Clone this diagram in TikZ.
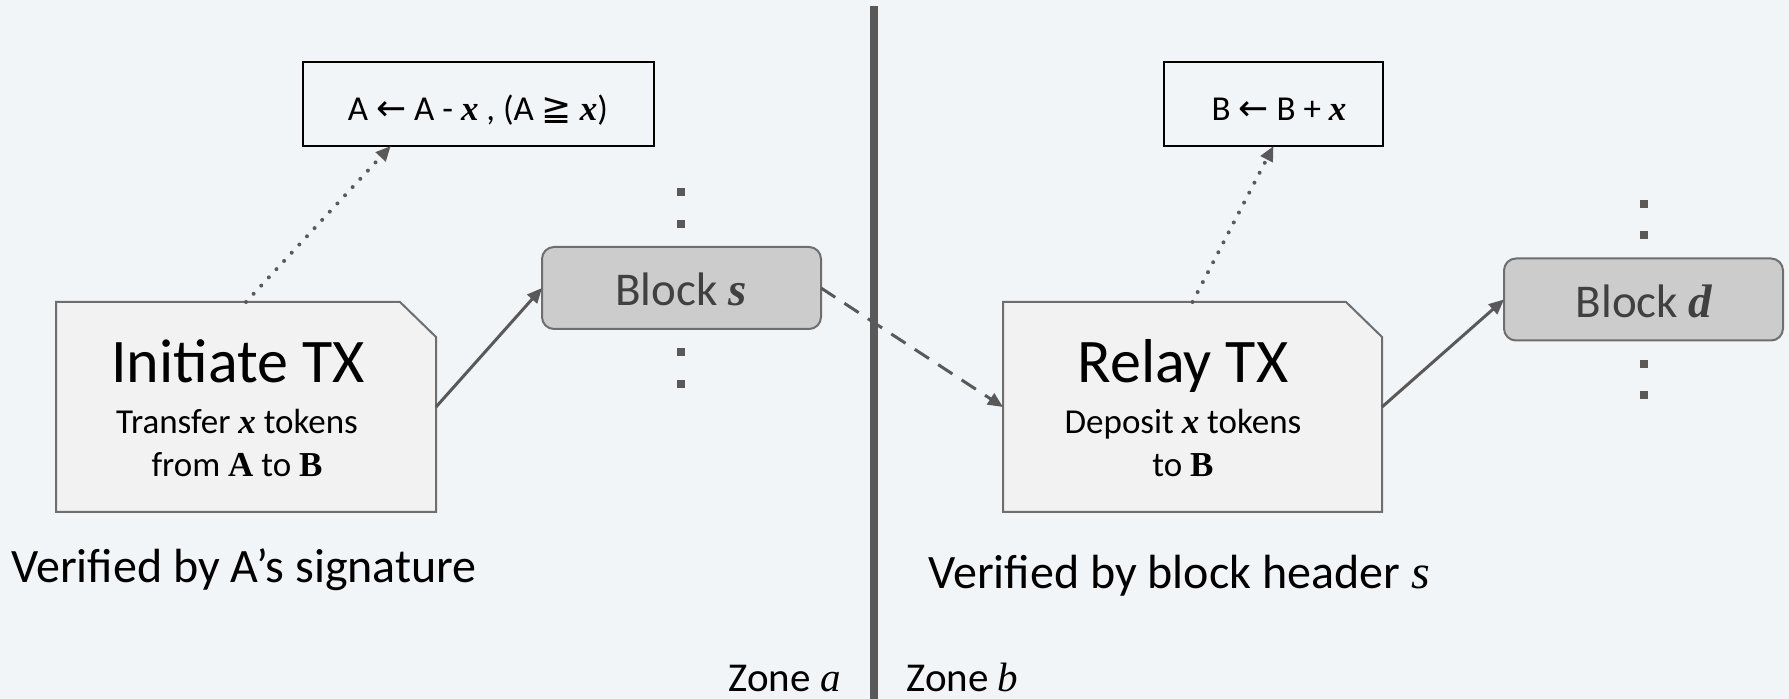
\documentclass[tikz,border=0pt]{standalone}
\usepackage{fontspec}
\setmainfont{Carlito}
\newfontfamily\mathserif{Liberation Serif}
\newfontfamily\symfont{DejaVu Sans}
\usetikzlibrary{arrows.meta,calc}

\definecolor{bgcol}{HTML}{F2F5F8}
\definecolor{linecol}{HTML}{595959}
\definecolor{txfill}{HTML}{F2F2F2}
\definecolor{txborder}{HTML}{6E6E6E}
\definecolor{blockfill}{HTML}{CCCCCC}
\definecolor{blocktext}{HTML}{404040}

\newcommand{\vb}[1]{{\mathserif\bfseries\itshape #1}}
\newcommand{\vi}[1]{{\mathserif\itshape #1}}
\newcommand{\ub}[1]{{\mathserif\bfseries #1}}
\newcommand{\symarr}[1]{{\symfont\fontsize{18}{18}\selectfont #1}}

\tikzset{
  txshape/.style={rectangle, minimum width=190pt, minimum height=105pt,
    inner sep=0pt, outer sep=0pt},
  txoutline/.style={draw=txborder, line width=1pt, fill=txfill, line join=miter},
  updbox/.style={draw=black, line width=0.8pt, fill=bgcol,
    minimum height=42pt, inner sep=0pt, outer sep=0pt},
  blockbox/.style={draw=txborder, line width=1pt, fill=blockfill,
    rounded corners=6pt, minimum width=139.5pt, minimum height=41pt,
    inner sep=0pt, outer sep=0pt},
  vdot/.style={fill=linecol, minimum size=4pt, inner sep=0pt, outer sep=0pt},
  lbl/.style={anchor=base, inner sep=0pt},
  title/.style={lbl, font=\fontsize{31}{31}\selectfont},
  sub/.style={lbl, font=\fontsize{17.5}{17.5}\selectfont},
  caption/.style={inner sep=0pt, font=\fontsize{24}{24}\selectfont},
  zone/.style={inner sep=0pt, font=\fontsize{20.5}{20.5}\selectfont},
  tip/.style={-{Triangle[length=7.5pt,width=6.5pt]}},
  flow/.style={tip, draw=linecol, line width=1.5pt},
  dflow/.style={tip, draw=linecol, line width=1.5pt, dash pattern=on 8.5pt off 5.5pt},
  pflow/.style={tip, draw=linecol, line width=2pt, line cap=round,
    dash pattern=on 0pt off 5.6pt},
}

% outline of a transaction card with its top right corner cut off
\newcommand{\txcard}[1]{%
  \path[txoutline] (#1.south west) -- (#1.north west)
    -- ([xshift=-18pt]#1.north east) -- ([yshift=-17.5pt]#1.north east)
    -- (#1.south east) -- cycle;}

\begin{document}
\begin{tikzpicture}[x=0.5pt, y=-0.5pt]
  \fill[bgcol] (0,0) rectangle (1789,699);
  \useasboundingbox (0,0) rectangle (1789,699);

  % zone divider
  \draw[linecol, line width=4pt] (874,6) -- (874,699);

  % transactions
  \node[txshape] (init) at (246,407) {};
  \txcard{init}
  \node[txshape, minimum width=189.5pt] (relay) at (1192.5,407) {};
  \txcard{relay}

  \node[title] (initT) at (238,383) {Initiate TX};
  \node[sub] (initA) at (237,434) {Transfer \vb{x} tokens};
  \node[sub] (initB) at (237,477) {from \ub{A} to \ub{B}};

  \node[title] (relayT) at (1183,383) {Relay TX};
  \node[sub] (relayA) at (1183,434) {Deposit \vb{x} tokens};
  \node[sub] (relayB) at (1183,477) {to \ub{B}};

  % balance updates
  \node[updbox, minimum width=175.5pt] (boxa) at (478.5,104) {};
  \node[sub] (boxaT) at (478,121)
    {A \symarr{←} A - \vb{x} , (A \symarr{≧} \vb{x})};
  \node[updbox, minimum width=109.5pt] (boxb) at (1273.5,104) {};
  \node[sub] (boxbT) at (1279,121)
    {B \symarr{←} B + \vb{x}};

  % blocks
  \node[blockbox] (blocks) at (681.5,288) {};
  \node[lbl, text=blocktext, font=\fontsize{23.5}{23.5}\selectfont] (blocksT) at (681,306) {Block \vb{s}};
  \node[blockbox] (blockd) at (1643.5,299.5) {};
  \node[lbl, text=blocktext, font=\fontsize{23.5}{23.5}\selectfont] (blockdT) at (1644,318) {Block \vb{d}};

  % chain continuation marks
  \foreach \n/\y in {1/192, 2/224, 3/352, 4/384}
    \node[vdot] (sdot\n) at (681,\y) {};
  \foreach \n/\y in {1/204, 2/235, 3/364, 4/395}
    \node[vdot] (ddot\n) at (1644,\y) {};

  % captions
  \node[caption, anchor=base west] (vera) at (11,583) {Verified by A’s signature};
  \node[caption, anchor=base west] (verb) at (928,589) {Verified by block header \vi{s}};
  \node[zone, anchor=base east] (zonea) at (841,691) {Zone \vi{a}};
  \node[zone, anchor=base west] (zoneb) at (906,691) {Zone \vi{b}};

  % connectors
  \draw[pflow] (init.north) -- ($(boxa.south west)!0.25!(boxa.south east)$);
  \draw[flow] (init.east) -- (blocks.west);
  \draw[dflow] (blocks.east) -- (relay.west);
  \draw[pflow] (relay.north) -- (boxb.south);
  \draw[flow] (relay.east) -- (blockd.west);
\end{tikzpicture}
\end{document}
